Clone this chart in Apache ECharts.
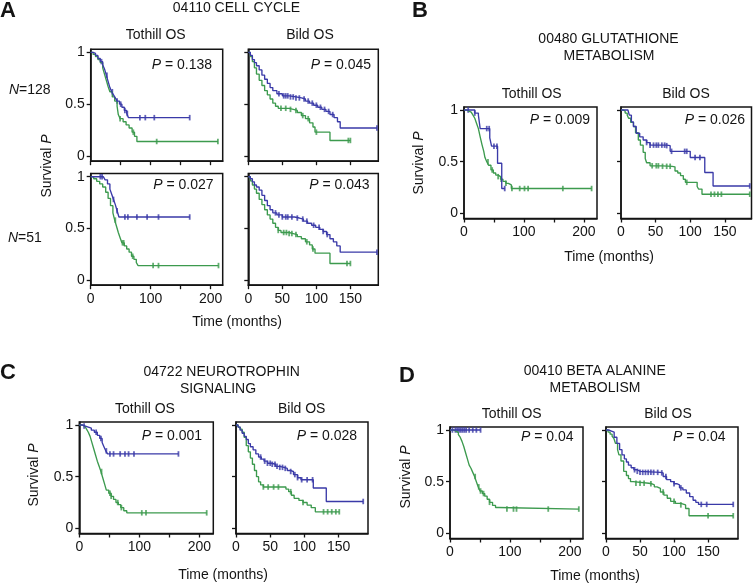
<!DOCTYPE html>
<html><head><meta charset="utf-8">
<script src="https://cdn.jsdelivr.net/npm/echarts@6/dist/echarts.min.js"></script>
<style>html,body{margin:0;padding:0;background:#fff}#c{width:755px;height:584px}</style>
</head><body><div id="c"></div>
<script>
// ---------- tick labels ----------
const yTicks = [0, 0.5, 1];
const tothillXTicks = [0, 50, 100, 150, 200];
const tothillXLabels = [0, 100, 200];
const bildXTicks = [0, 50, 100, 150];
const bildXLabels = [0, 50, 100, 150];
const pValues = ['0.138', '0.045', '0.027', '0.043', '0.009', '0.026', '0.001', '0.028', '0.04', '0.04'];

// ---------- Panel A, N=128, Tothill ----------
const aTotTopBlue = [[0,1],[4,0.99],[8,0.97],[12,0.94],[16,0.91],[20,0.88],[23,0.84],[26,0.78],[29,0.72],[32,0.66],[35,0.62],[38,0.59],[41,0.56],[44,0.53],[48,0.5],[52,0.47],[56,0.44],[60,0.41],[63,0.37],[165,0.37]];
const aTotTopBlueCens = [18,27,36,44,50,57,61,82,91,106,165];
const aTotTopGreen = [[0,1],[4,0.98],[8,0.96],[12,0.93],[16,0.9],[20,0.85],[23,0.79],[26,0.73],[29,0.67],[32,0.62],[36,0.57],[40,0.53],[44,0.48],[46,0.4],[49,0.36],[54,0.33],[59,0.3],[64,0.27],[69,0.23],[73,0.19],[77,0.14],[212,0.14]];
const aTotTopGreenCens = [49,71,110,212];
// ---------- Panel A, N=128, Bild ----------
const aBildTopBlue = [[0,1],[3,0.97],[6,0.93],[9,0.9],[12,0.87],[16,0.83],[20,0.78],[24,0.74],[28,0.7],[32,0.66],[36,0.63],[42,0.6],[50,0.58],[60,0.57],[70,0.56],[78,0.55],[84,0.53],[90,0.51],[96,0.49],[102,0.47],[108,0.45],[114,0.43],[120,0.4],[126,0.37],[131,0.33],[135,0.27],[189,0.27]];
const aBildTopBlueCens = [45,52,55,58,62,66,70,75,82,88,94,100,106,112,118,124,189];
const aBildTopGreen = [[0,1],[3,0.96],[6,0.91],[9,0.85],[12,0.79],[16,0.73],[20,0.68],[24,0.63],[28,0.59],[32,0.55],[36,0.51],[40,0.48],[44,0.46],[60,0.45],[66,0.44],[72,0.42],[78,0.39],[84,0.36],[90,0.32],[95,0.28],[98,0.23],[120,0.15],[150,0.15]];
const aBildTopGreenCens = [48,55,62,70,80,88,100,147,150];
// ---------- Panel A, N=51, Tothill ----------
const aTotBotBlue = [[0,1],[21,1],[24,0.97],[28,0.93],[32,0.88],[35,0.83],[38,0.78],[41,0.73],[44,0.67],[47,0.61],[165,0.61]];
const aTotBotBlueCens = [16,19,38,44,57,62,77,94,113,165];
const aTotBotGreen = [[0,1],[5,0.98],[10,0.955],[15,0.93],[20,0.9],[25,0.85],[29,0.79],[33,0.72],[37,0.65],[40,0.58],[43,0.52],[46,0.46],[49,0.41],[52,0.36],[56,0.33],[60,0.3],[64,0.27],[68,0.23],[72,0.2],[76,0.17],[79,0.14],[213,0.14]];
const aTotBotGreenCens = [41,53,55,70,104,113,213];
// ---------- Panel A, N=51, Bild ----------
const aBildBotBlue = [[0,1],[3,0.98],[6,0.95],[9,0.92],[12,0.9],[16,0.87],[20,0.82],[24,0.77],[28,0.72],[32,0.68],[36,0.65],[42,0.63],[50,0.61],[62,0.61],[68,0.6],[75,0.59],[81,0.57],[87,0.55],[93,0.53],[99,0.51],[105,0.49],[110,0.47],[115,0.44],[120,0.4],[125,0.37],[130,0.33],[135,0.27],[189,0.27]];
const aBildBotBlueCens = [40,45,50,55,58,64,72,80,86,96,104,110,116,189];
const aBildBotGreen = [[0,1],[3,0.96],[6,0.92],[9,0.88],[12,0.84],[16,0.78],[20,0.73],[24,0.68],[28,0.63],[32,0.59],[36,0.55],[40,0.51],[44,0.48],[48,0.46],[60,0.45],[66,0.44],[72,0.42],[78,0.4],[84,0.37],[90,0.34],[94,0.3],[98,0.26],[120,0.16],[150,0.16]];
const aBildBotGreenCens = [44,52,56,60,64,70,86,95,145,150];
// ---------- Panel B, Tothill ----------
const bTotBlue = [[0,1],[13,1],[18,0.97],[24,0.95],[27,0.82],[43,0.73],[46,0.65],[56,0.485],[63,0.24],[68,0.24]];
const bTotBlueCens = [7,18,38,42,50,55,68];
const bTotGreen = [[0,1],[4,0.99],[8,0.98],[12,0.965],[15,0.95],[18,0.92],[21,0.87],[24,0.82],[27,0.74],[30,0.665],[33,0.6],[35,0.54],[38,0.5],[41,0.465],[45,0.42],[49,0.39],[53,0.37],[57,0.355],[61,0.33],[65,0.31],[70,0.29],[74,0.275],[79,0.24],[213,0.24]];
const bTotGreenCens = [40,47,57,62,70,80,93,101,107,165,213];
// ---------- Panel B, Bild ----------
const bBildBlue = [[0,1],[10,1],[12,0.95],[15,0.885],[18,0.84],[22,0.775],[27,0.74],[32,0.71],[37,0.685],[42,0.66],[66,0.655],[71,0.6],[95,0.6],[100,0.54],[121,0.395],[133,0.265],[186,0.265]];
const bBildBlueCens = [37,42,47,51,54,59,63,66,73,92,95,107,114,186];
const bBildGreen = [[0,1],[3,0.99],[6,0.97],[9,0.95],[11,0.92],[14,0.88],[18,0.84],[21,0.78],[25,0.71],[28,0.66],[32,0.59],[35,0.53],[37,0.49],[42,0.46],[60,0.455],[74,0.45],[78,0.41],[82,0.39],[86,0.365],[90,0.33],[93,0.3],[107,0.3],[110,0.26],[112,0.235],[117,0.185],[186,0.185]];
const bBildGreenCens = [45,51,54,60,66,71,95,130,135,140,145,186];
// ---------- Panel C, Tothill ----------
const cTotBlue = [[0,1],[5,0.99],[10,0.98],[15,0.97],[20,0.95],[25,0.93],[30,0.9],[34,0.87],[38,0.83],[41,0.79],[44,0.75],[47,0.72],[165,0.72]];
const cTotBlueCens = [8,28,36,45,51,57,68,76,82,91,165];
const cTotGreen = [[0,1],[5,0.99],[9,0.98],[12,0.96],[15,0.93],[18,0.89],[21,0.83],[24,0.77],[27,0.71],[30,0.65],[33,0.6],[36,0.55],[39,0.49],[42,0.43],[45,0.37],[49,0.34],[53,0.31],[57,0.28],[61,0.25],[65,0.23],[69,0.2],[74,0.17],[79,0.15],[212,0.15]];
const cTotGreenCens = [37,51,53,64,70,104,111,212];
// ---------- Panel C, Bild ----------
const cBildBlue = [[0,1],[3,0.98],[6,0.95],[9,0.92],[12,0.89],[15,0.86],[18,0.82],[21,0.79],[25,0.76],[29,0.72],[33,0.69],[37,0.67],[41,0.65],[46,0.63],[52,0.62],[58,0.6],[64,0.59],[70,0.58],[75,0.56],[79,0.55],[84,0.52],[90,0.49],[95,0.47],[113,0.39],[132,0.26],[186,0.26]];
const cBildBlueCens = [36,42,46,50,53,57,60,64,68,72,80,86,90,96,104,112,186];
const cBildGreen = [[0,1],[3,0.98],[6,0.96],[9,0.93],[12,0.88],[15,0.8],[18,0.74],[21,0.68],[24,0.62],[27,0.56],[30,0.5],[33,0.45],[36,0.42],[40,0.4],[69,0.4],[73,0.38],[77,0.355],[81,0.32],[85,0.29],[92,0.27],[98,0.25],[104,0.225],[110,0.2],[116,0.16],[151,0.16]];
const cBildGreenCens = [40,47,55,62,80,98,128,134,140,146,151];
// ---------- Panel D, Tothill ----------
const dTotBlue = [[0,1],[51,1]];
const dTotBlueCens = [4,9,12,15,18,21,24,27,32,38,44,51];
const dTotGreen = [[0,1],[6,0.99],[10,0.975],[14,0.955],[17,0.93],[20,0.89],[23,0.84],[26,0.78],[29,0.72],[32,0.66],[35,0.63],[38,0.59],[41,0.55],[44,0.5],[47,0.45],[50,0.41],[54,0.385],[58,0.36],[62,0.33],[66,0.3],[71,0.27],[76,0.25],[81,0.235],[215,0.235]];
const dTotGreenCens = [42,48,51,56,66,95,106,111,164,215];
// ---------- Panel D, Bild ----------
const dBildBlue = [[0,1],[4,0.99],[8,0.98],[12,0.93],[16,0.87],[20,0.81],[23.5,0.76],[27,0.72],[30,0.69],[33,0.66],[37,0.635],[41,0.615],[46,0.6],[50,0.59],[80,0.585],[84,0.55],[89,0.52],[95,0.5],[100,0.48],[104,0.47],[108,0.44],[113,0.42],[118,0.39],[123,0.355],[128,0.32],[132,0.3],[136,0.28],[187,0.28]];
const dBildBlueCens = [42,46,50,54,58,62,66,70,76,82,88,100,110,140,148,187];
const dBildGreen = [[0,1],[3,0.98],[6,0.96],[9,0.94],[11.5,0.92],[14,0.87],[17,0.81],[19,0.76],[22,0.7],[26,0.6],[30,0.56],[33,0.53],[36,0.5],[40,0.485],[63,0.48],[67,0.47],[71,0.45],[75,0.435],[80,0.4],[85,0.37],[90,0.34],[95,0.31],[102,0.29],[110,0.275],[117,0.24],[122,0.17],[187,0.17]];
const dBildGreenCens = [44,50,56,66,84,100,110,150,187];

// ---------- layout & style ----------
const FONT = '"Liberation Sans", Arial, Helvetica, sans-serif';
const BLUE = '#3a3aa8', GREEN = '#3c9a4e', INK = '#141414';
const YMIN = -0.05, YMAX = 1.03;

const plots = [
  {g:{left:90.7, top:49.2, width:132, height:112}, xMax:220, tot:true, yl:true, xl:false, pR:212, pY:65, b:aTotTopBlue, bc:aTotTopBlueCens, gr:aTotTopGreen, gc:aTotTopGreenCens},
  {g:{left:248.3, top:49.2, width:130, height:112}, xMax:191, tot:false, yl:false, xl:false, pR:371, pY:65, b:aBildTopBlue, bc:aBildTopBlueCens, gr:aBildTopGreen, gc:aBildTopGreenCens},
  {g:{left:90.7, top:173.6, width:132, height:111.6}, xMax:220, tot:true, yl:true, xl:true, pR:213.5, pY:185, b:aTotBotBlue, bc:aTotBotBlueCens, gr:aTotBotGreen, gc:aTotBotGreenCens},
  {g:{left:248.3, top:173.6, width:130, height:111.6}, xMax:191, tot:false, yl:false, xl:true, pR:369.5, pY:185, b:aBildBotBlue, bc:aBildBotBlueCens, gr:aBildBotGreen, gc:aBildBotGreenCens},
  {g:{left:464, top:106.9, width:133, height:111.6}, xMax:222, tot:true, yl:true, xl:true, pR:590, pY:120, b:bTotBlue, bc:bTotBlueCens, gr:bTotGreen, gc:bTotGreenCens},
  {g:{left:621, top:106.9, width:130.5, height:111.6}, xMax:188.5, tot:false, yl:false, xl:true, pR:745, pY:120, b:bBildBlue, bc:bBildBlueCens, gr:bBildGreen, gc:bBildGreenCens},
  {g:{left:79.3, top:421.9, width:134, height:111.6}, xMax:223, tot:true, yl:true, xl:true, pR:202, pY:436, b:cTotBlue, bc:cTotBlueCens, gr:cTotGreen, gc:cTotGreenCens},
  {g:{left:236, top:421.9, width:132, height:111.6}, xMax:193, tot:false, yl:false, xl:true, pR:357, pY:436, b:cBildBlue, bc:cBildBlueCens, gr:cBildGreen, gc:cBildGreenCens},
  {g:{left:450, top:426.9, width:133, height:111.6}, xMax:222, tot:true, yl:true, xl:true, pR:573.5, pY:437.5, b:dTotBlue, bc:dTotBlueCens, gr:dTotGreen, gc:dTotGreenCens},
  {g:{left:606, top:426.9, width:132, height:111.6}, xMax:194, tot:false, yl:false, xl:true, pR:725.5, pY:437.5, b:dBildBlue, bc:dBildBlueCens, gr:dBildGreen, gc:dBildGreenCens}
];

function survAt(curve, t) {
  let s = curve[0][1];
  for (const p of curve) { if (p[0] <= t) s = p[1]; else break; }
  return s;
}

const grids = [], xAxes = [], yAxes = [], series = [];
plots.forEach((p, i) => {
  grids.push(Object.assign({show:true, borderColor:INK, borderWidth:1.5, backgroundColor:'rgba(0,0,0,0)'}, p.g));
  xAxes.push({
    gridIndex:i, type:'value', min:0, max:p.xMax,
    axisLine:{show:true, onZero:false, lineStyle:{color:INK, width:1.5}},
    axisTick:{show:true, length:4, customValues: p.tot ? tothillXTicks : bildXTicks, lineStyle:{color:INK, width:1.3}},
    axisLabel:{show:p.xl, customValues: p.tot ? tothillXLabels : bildXLabels, margin:7, fontSize:14, color:INK, fontFamily:FONT},
    splitLine:{show:false}
  });
  yAxes.push({
    gridIndex:i, type:'value', min:YMIN, max:YMAX,
    axisLine:{show:true, onZero:false, lineStyle:{color:INK, width:1.5}},
    axisTick:{show:true, length:4, customValues:yTicks, lineStyle:{color:INK, width:1.3}},
    axisLabel:{show:p.yl, customValues:yTicks, margin:6, fontSize:14, color:INK, fontFamily:FONT},
    splitLine:{show:false}
  });
  const lineCommon = {type:'line', xAxisIndex:i, yAxisIndex:i, step:'end', showSymbol:false, symbol:'none', silent:true};
  const scatCommon = {type:'scatter', xAxisIndex:i, yAxisIndex:i, symbol:'rect', symbolSize:[1.8,5.5], silent:true};
  series.push(Object.assign({data:p.gr, lineStyle:{color:GREEN, width:1.35}, itemStyle:{color:GREEN}}, lineCommon));
  series.push(Object.assign({data:p.gc.map(t => [t, survAt(p.gr, t)]), itemStyle:{color:GREEN}}, scatCommon));
  series.push(Object.assign({data:p.b, lineStyle:{color:BLUE, width:1.35}, itemStyle:{color:BLUE}}, lineCommon));
  series.push(Object.assign({data:p.bc.map(t => [t, survAt(p.b, t)]), itemStyle:{color:BLUE}}, scatCommon));
});

// ---------- texts ----------
const richIt = {i:{fontStyle:'italic', fontSize:14, fontFamily:FONT, fill:INK, color:INK}, n:{fontSize:14, fontFamily:FONT, fill:INK, color:INK}};
function txt(x, y, text, o) {
  o = o || {};
  return {
    type:'text', x:x, y:y, rotation:o.rot || 0, silent:true,
    style:{text:text, fontSize:o.size || 14, fontWeight:o.bold ? 'bold' : 'normal', fontFamily:FONT, fill:INK,
      textAlign:o.align || 'center', align:o.align || 'center', textVerticalAlign:'middle', verticalAlign:'middle', rich:richIt}
  };
}
const graphics = [];
[['A',0,11],['B',412,11],['C',0,373],['D',399,376]].forEach(l => graphics.push(txt(l[1], l[2], l[0], {align:'left', size:22, bold:true})));
graphics.push(txt(236.5, 8.5, '04110 CELL CYCLE'));
graphics.push(txt(608.5, 39, '00480 GLUTATHIONE'));
graphics.push(txt(609, 56, 'METABOLISM'));
graphics.push(txt(221.7, 372, '04722 NEUROTROPHIN'));
graphics.push(txt(218, 389, 'SIGNALING'));
graphics.push(txt(594.7, 371, '00410 BETA ALANINE'));
graphics.push(txt(595, 388, 'METABOLISM'));
[[155.7,35],[531.7,94],[145,409],[511.7,414]].forEach(q => graphics.push(txt(q[0], q[1], 'Tothill OS')));
[[310,35],[686,94],[301.7,409],[668,414]].forEach(q => graphics.push(txt(q[0], q[1], 'Bild OS')));
graphics.push(txt(9, 90, '{i|N}{n|=128}', {align:'left'}));
graphics.push(txt(8, 238, '{i|N}{n|=51}', {align:'left'}));
[[47,166],[419,163],[34,475],[406,477]].forEach(q => graphics.push(txt(q[0], q[1], '{n|Survival }{i|P}', {rot:Math.PI/2})));
[[237,322],[609,257],[223,575],[595,576]].forEach(q => graphics.push(txt(q[0], q[1], 'Time (months)')));
plots.forEach((p, i) => graphics.push(txt(p.pR, p.pY, '{i|P}{n| = ' + pValues[i] + '}', {align:'right'})));

const chart = echarts.init(document.getElementById('c'), null, {renderer:'canvas'});
chart.setOption({
  animation:false,
  backgroundColor:'#fff',
  grid:grids, xAxis:xAxes, yAxis:yAxes, series:series,
  graphic:graphics
});
</script></body></html>
